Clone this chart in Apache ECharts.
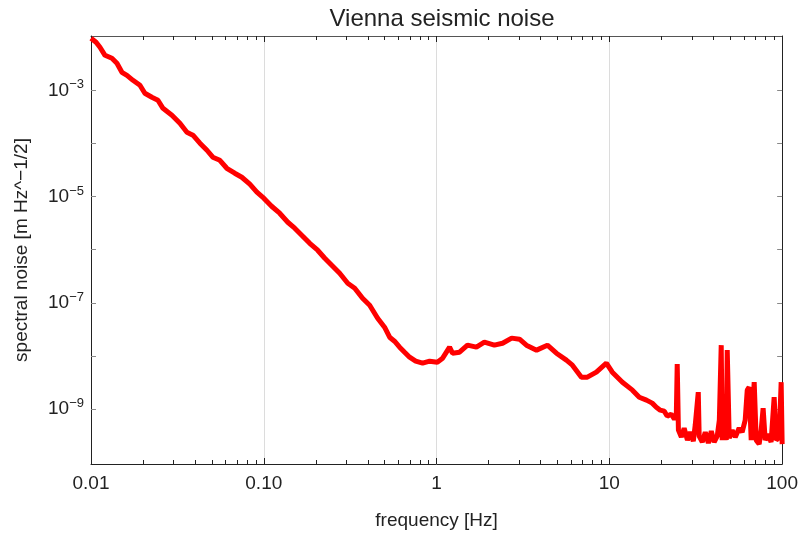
<!DOCTYPE html>
<html>
<head>
<meta charset="utf-8">
<script src="https://cdn.jsdelivr.net/npm/echarts@6/dist/echarts.min.js"></script>
<style>html,body{margin:0;padding:0;background:#fff}#c{width:801px;height:538px}</style>
</head>
<body>
<div id="c"></div>
<script>
// frequency [Hz]
const freq = [
0.0100,0.0107,0.01127,0.01205,0.01322,0.01413,0.0151,0.01615,0.0175,0.0192,
0.0205,0.0225,0.0244,0.0261,0.0294,0.0327,0.0359,0.0389,0.0427,0.0469,
0.0507,0.0557,0.0611,0.0679,0.0746,0.0830,0.0912,0.100,0.111,0.1236,
0.1377,0.151,0.168,0.1845,0.205,0.2254,0.2506,0.275,0.306,0.336,
0.373,0.410,0.456,0.500,0.535,0.571,0.611,0.653,0.698,0.757,
0.830,0.912,1.01,1.084,1.189,1.236,1.358,1.51,1.70,1.89,
2.16,2.41,2.72,3.02,3.31,3.79,4.38,4.94,5.64,6.11,
6.89,7.46,8.41,9.61,10.4,11.9,13.6,14.9,16.4,17.7,
18.7,19.7,20.8,21.6,22.8,23.8,24.4,24.7,25.1,26.1,
27.1,28.3,29.4,30.6,31.4,32.7,33.1,34.5,35.9,37.4,
38.9,40.4,42.1,43.3,44.4,45.0,46.2,47.5,48.1,49.4,
51.4,53.5,56.4,58.7,61.1,62.8,64.4,66.2,68.9,70.8,
73.6,75.6,77.6,79.8,83.0,86.3,89.9,92.3,96.1,98.7,100
];
// spectral noise [m Hz^-1/2]
const noise = [
9.51e-3,8.0e-3,6.44e-3,4.55e-3,4.0e-3,3.22e-3,2.18e-3,1.91e-3,1.54e-3,1.24e-3,
8.78e-4,7.38e-4,6.49e-4,4.58e-4,3.39e-4,2.39e-4,1.62e-4,1.43e-4,1.01e-4,7.44e-5,
5.50e-5,4.82e-5,3.41e-5,2.75e-5,2.31e-5,1.71e-5,1.21e-5,9.31e-6,6.58e-6,4.86e-6,
3.29e-6,2.54e-6,1.80e-6,1.32e-6,9.79e-7,6.92e-7,4.90e-7,3.61e-7,2.34e-7,1.89e-7,
1.22e-7,9.04e-8,5.15e-8,3.49e-8,2.26e-8,1.90e-8,1.47e-8,1.18e-8,9.51e-9,8.00e-9,
7.33e-9,8.0e-9,7.66e-9,9.10e-9,1.47e-8,1.13e-8,1.18e-8,1.60e-8,1.47e-8,1.82e-8,
1.60e-8,1.74e-8,2.17e-8,2.07e-8,1.60e-8,1.29e-8,1.60e-8,1.13e-8,8.36e-9,6.73e-9,
4.00e-9,4.00e-9,4.97e-9,7.33e-9,4.97e-9,3.22e-9,2.28e-9,1.68e-9,1.48e-9,1.30e-9,
1.09e-9,9.59e-10,9.18e-10,7.40e-10,8.05e-10,6.49e-10,7.40e-10,7.03e-9,4.03e-10,2.98e-10,
4.40e-10,2.61e-10,3.70e-10,2.50e-10,5.01e-10,2.09e-9,3.11e-10,2.40e-10,3.70e-10,2.30e-10,
3.86e-10,2.40e-10,3.11e-10,6.22e-10,1.60e-8,2.61e-10,1.84e-9,2.61e-10,1.29e-8,2.85e-10,
4.03e-10,2.98e-10,4.40e-10,3.70e-10,6.22e-10,2.28e-9,2.59e-9,2.61e-10,3.22e-9,2.61e-10,
2.20e-10,4.03e-10,1.04e-9,2.61e-10,3.39e-10,2.40e-10,1.68e-9,2.61e-10,2.98e-10,3.22e-9,2.20e-10
];
// axis ranges and ticks
const xMin = 0.01, xMax = 100;
const yMin = 9.3e-11, yMax = 1.05e-2;
const xTickValues = [0.01, 0.1, 1, 10, 100];
const xTickLabels = ['0.01', '0.10', '1', '10', '100'];
const xMinorMultipliers = [2, 3, 4, 5, 6, 7, 8, 9];
const yTickValues = [1e-9, 1e-8, 1e-7, 1e-6, 1e-5, 1e-4, 1e-3];
const yLabelValues = [1e-9, 1e-7, 1e-5, 1e-3];

const L = Math.log10;
const xMajor = xTickValues.map(L);
const xMinor = [];
xTickValues.slice(0, -1).forEach(d => xMinorMultipliers.forEach(m => xMinor.push(L(d * m))));
const yTicks = yTickValues.map(L);
const yLabels = yLabelValues.map(L);

const FONT = '"Liberation Sans", Arial, sans-serif';
const TXT = '#222';
const AX = '#222';

const baseX = {type: 'value', min: L(xMin), max: L(xMax)};
const baseY = {type: 'value', min: L(yMin), max: L(yMax)};

const chart = echarts.init(document.getElementById('c'), null, {renderer: 'canvas'});
chart.setOption({
  animation: false,
  backgroundColor: '#fff',
  title: {
    text: 'Vienna seismic noise', left: 437, top: 2, textAlign: 'center',
    textStyle: {fontFamily: FONT, fontSize: 24, fontWeight: 'normal', color: TXT}
  },
  grid: {left: 91, right: 18, top: 36, bottom: 74},
  xAxis: [
    Object.assign({}, baseX, {
      position: 'bottom',
      name: 'frequency [Hz]', nameLocation: 'middle', nameGap: 47,
      nameTextStyle: {fontFamily: FONT, fontSize: 19, color: TXT},
      axisLine: {show: true, onZero: false, lineStyle: {color: AX, width: 1}},
      axisTick: {show: true, inside: true, length: 6, customValues: xMajor, lineStyle: {color: AX}},
      axisLabel: {
        customValues: xMajor, margin: 10, showMinLabel: true, showMaxLabel: true,
        fontFamily: FONT, fontSize: 19, color: TXT,
        formatter: v => xTickLabels[Math.round(v) + 2]
      },
      splitLine: {show: true, lineStyle: {color: '#dcdcdc', width: 1}}
    }),
    Object.assign({}, baseX, {
      position: 'bottom',
      axisLine: {show: false, onZero: false},
      axisTick: {show: true, inside: true, length: 4, customValues: xMinor, lineStyle: {color: AX}},
      axisLabel: {show: false},
      splitLine: {show: false}
    }),
    Object.assign({}, baseX, {
      position: 'top',
      axisLine: {show: true, onZero: false, lineStyle: {color: '#555', width: 1}},
      axisTick: {show: true, inside: true, length: 6, customValues: xMajor, lineStyle: {color: AX}},
      axisLabel: {show: false},
      splitLine: {show: false}
    }),
    Object.assign({}, baseX, {
      position: 'top',
      axisLine: {show: false, onZero: false},
      axisTick: {show: true, inside: true, length: 4, customValues: xMinor, lineStyle: {color: AX}},
      axisLabel: {show: false},
      splitLine: {show: false}
    })
  ],
  yAxis: [
    Object.assign({}, baseY, {
      position: 'left',
      name: 'spectral noise [m Hz^\u22121/2]', nameLocation: 'middle', nameGap: 60, nameRotate: 90,
      nameTextStyle: {fontFamily: FONT, fontSize: 19, color: TXT},
      axisLine: {show: true, onZero: false, lineStyle: {color: AX, width: 1}},
      axisTick: {show: true, inside: true, length: 5, customValues: yTicks, lineStyle: {color: '#888'}},
      axisLabel: {
        customValues: yLabels, margin: 7, showMinLabel: true, showMaxLabel: true,
        fontFamily: FONT, color: TXT,
        formatter: v => '{b|10}{s|\u2212' + Math.abs(Math.round(v)) + '}',
        rich: {
          b: {fontFamily: FONT, fontSize: 19, color: TXT},
          s: {fontFamily: FONT, fontSize: 13, color: TXT, padding: [0, 0, 11, 0]}
        }
      },
      splitLine: {show: false}
    }),
    Object.assign({}, baseY, {
      position: 'right',
      axisLine: {show: true, onZero: false, lineStyle: {color: AX, width: 1}},
      axisTick: {show: true, inside: true, length: 5, customValues: yTicks, lineStyle: {color: '#888'}},
      axisLabel: {show: false},
      splitLine: {show: false}
    })
  ],
  series: [{
    type: 'line',
    xAxisIndex: 0, yAxisIndex: 0,
    showSymbol: false,
    data: freq.map((f, i) => [L(f), L(noise[i])]),
    lineStyle: {color: '#ff0000', width: 5},
    itemStyle: {color: '#ff0000'},
    clip: true
  }]
});
</script>
</body>
</html>
